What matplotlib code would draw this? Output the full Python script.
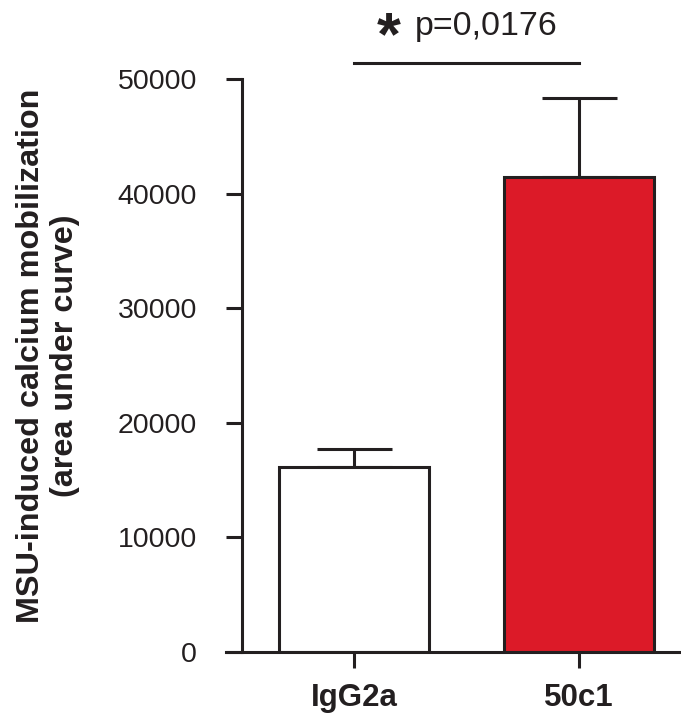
import matplotlib.pyplot as plt
import numpy as np

plt.rcParams['font.family'] = ['Liberation Sans', 'DejaVu Sans']

groups = ["IgG2a", "50c1"]
means = [16100, 41450]
errs = [1600, 6900]
colors = ["white", "#dc1a28"]
yticks = [0, 10000, 20000, 30000, 40000, 50000]
sig_y = 51400
p_text = "p=0,0176"

W, H = 681, 717
fig = plt.figure(figsize=(W / 100, H / 100), dpi=100)
ax = fig.add_axes([226 / W, (H - 651.5) / H, (W - 226) / W, 651.5 / H])

x = np.arange(len(groups))
ax.bar(x, means, width=0.667, color=colors, edgecolor="#231f20", linewidth=2.2, zorder=2)
ax.errorbar(x, means, yerr=[np.zeros(len(errs)), errs], fmt="none",
            ecolor="#231f20", elinewidth=2.2, capsize=27, capthick=2.2, zorder=1)

ax.set_xlim(-0.569, 1.453)
ax.set_ylim(0, 56900)

for s in ["top", "right"]:
    ax.spines[s].set_visible(False)
ax.spines["left"].set_position(("data", -0.498))
ax.spines["left"].set_bounds(0, 50000)
for s in ["left", "bottom"]:
    ax.spines[s].set_linewidth(2.2)
    ax.spines[s].set_color("#231f20")

ax.set_yticks(yticks)
ax.set_yticklabels([str(v) for v in yticks])
ax.set_xticks(x)
ax.set_xticklabels(groups, fontweight="bold")
ax.tick_params(axis="y", length=11.5, width=2.2, pad=21, labelsize=20.5, color="#231f20", labelcolor="#231f20")
ax.tick_params(axis="x", length=11.5, width=2.2, pad=11, labelsize=22.5, color="#231f20", labelcolor="#231f20")

# significance bar
ax.plot([x[0], x[1]], [sig_y, sig_y], color="#231f20", lw=2.2, clip_on=False)
ax.text(0.153, 52200, "*", fontsize=44, fontweight="bold", ha="center", va="baseline", color="#231f20")
ax.text(0.271, 53840, p_text, fontsize=24.5, ha="left", va="baseline", color="#231f20")

fig.text(48 / W, 1 - 356 / H, "MSU-induced calcium mobilization\n(area under curve)",
         rotation=90, ha="center", va="center", fontsize=23.3, fontweight="bold",
         multialignment="center", color="#231f20", linespacing=1.15)

fig.savefig("out.png", dpi=100)
